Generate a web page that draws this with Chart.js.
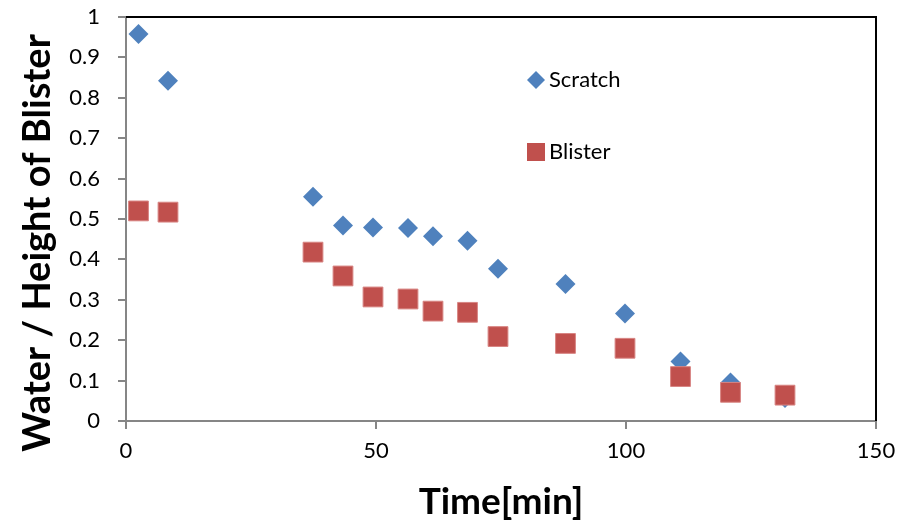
<!DOCTYPE html>
<html>
<head>
<meta charset="utf-8">
<script src="https://cdn.jsdelivr.net/npm/chart.js@4.4.0/dist/chart.umd.min.js"></script>
<style>
  html, body { margin: 0; padding: 0; background: #fff; }
</style>
</head>
<body>
<canvas id="chart" width="906" height="527"></canvas>
<script>
// time in minutes, shared by both series
const times = [2.5, 8.4, 37.4, 43.4, 49.4, 56.4, 61.4, 68.3, 74.4, 87.9, 99.8, 110.9, 120.9, 131.8];
const scratch = [0.958, 0.842, 0.555, 0.484, 0.479, 0.478, 0.457, 0.446, 0.377, 0.339, 0.266, 0.147, 0.095, 0.057];
const blister = [0.520, 0.517, 0.418, 0.359, 0.307, 0.302, 0.272, 0.269, 0.209, 0.192, 0.180, 0.110, 0.071, 0.064];
const seriesNames = ["Scratch", "Blister"];
const xTitle = "Time[min]";
const yTitle = "Water / Height of Blister";

const BLUE = "#4F81BD";
const RED = "#C0504D";
const AXIS_GREY = "#868686";
const FONT = "Lato, 'Open Sans', sans-serif";

function toPoints(ys) {
  return times.map((t, i) => ({ x: t, y: ys[i] }));
}

// draws black top/right frame, the y title and the in-plot legend
const extras = {
  id: "extras",
  afterDraw(chart) {
    const ctx = chart.ctx;
    const a = chart.chartArea;
    ctx.save();
    ctx.strokeStyle = "#000";
    ctx.lineWidth = 2;
    ctx.beginPath();
    ctx.moveTo(a.left, a.top);
    ctx.lineTo(a.right, a.top);
    ctx.lineTo(a.right, a.bottom);
    ctx.stroke();

    // y axis title
    ctx.fillStyle = "#000";
    ctx.font = "bold 38px " + FONT;
    ctx.textAlign = "center";
    ctx.textBaseline = "middle";
    ctx.translate(38, 243);
    ctx.rotate(-Math.PI / 2);
    ctx.fillText(yTitle, 0, 0);
    ctx.restore();

    // legend
    ctx.save();
    ctx.font = "22px " + FONT;
    ctx.textAlign = "left";
    ctx.textBaseline = "middle";
    ctx.fillStyle = BLUE;
    ctx.beginPath();
    ctx.moveTo(536, 71);
    ctx.lineTo(545, 80);
    ctx.lineTo(536, 89);
    ctx.lineTo(527, 80);
    ctx.closePath();
    ctx.fill();
    ctx.fillStyle = RED;
    ctx.fillRect(527, 143, 18, 18);
    ctx.fillStyle = "#000";
    ctx.fillText(seriesNames[0], 549, 80);
    ctx.fillText(seriesNames[1], 549, 152);
    ctx.restore();
  }
};

new Chart(document.getElementById("chart"), {
  type: "scatter",
  data: {
    datasets: [
      {
        label: seriesNames[0],
        data: toPoints(scratch),
        pointStyle: "rectRot",
        pointRadius: 10,
        backgroundColor: BLUE,
        borderColor: BLUE,
        borderWidth: 0,
        order: 2
      },
      {
        label: seriesNames[1],
        data: toPoints(blister),
        pointStyle: "rect",
        pointRadius: 14,
        backgroundColor: RED,
        borderColor: "#D88583",
        borderWidth: 1,
        order: 1
      }
    ]
  },
  options: {
    responsive: false,
    animation: false,
    layout: { padding: { top: 17, right: 30, left: 0, bottom: 0 } },
    plugins: {
      legend: { display: false },
      tooltip: { enabled: false }
    },
    scales: {
      x: {
        type: "linear",
        min: 0,
        max: 150,
        ticks: { stepSize: 50, color: "#000", font: { family: FONT, size: 22 }, padding: 9 },
        grid: { drawOnChartArea: false, tickLength: 8, color: AXIS_GREY, lineWidth: 2 },
        border: { color: AXIS_GREY, width: 2 },
        title: {
          display: true,
          text: xTitle,
          color: "#000",
          font: { family: FONT, size: 37, weight: "bold" },
          padding: { top: 0, bottom: 3 }
        },
        afterFit(scale) {
          scale.height = 106;
          scale.paddingLeft = 0;
          scale.paddingRight = 0;
        }
      },
      y: {
        min: 0,
        max: 1,
        ticks: {
          stepSize: 0.1,
          color: "#000",
          font: { family: FONT, size: 22 },
          padding: 18,
          callback: v => String(Number(v.toFixed(1)))
        },
        grid: { drawOnChartArea: false, tickLength: 8, color: AXIS_GREY, lineWidth: 2 },
        border: { color: AXIS_GREY, width: 2 },
        afterFit(scale) {
          scale.width = 126;
          scale.paddingTop = 0;
          scale.paddingBottom = 0;
        }
      }
    }
  },
  plugins: [extras]
});
</script>
</body>
</html>
